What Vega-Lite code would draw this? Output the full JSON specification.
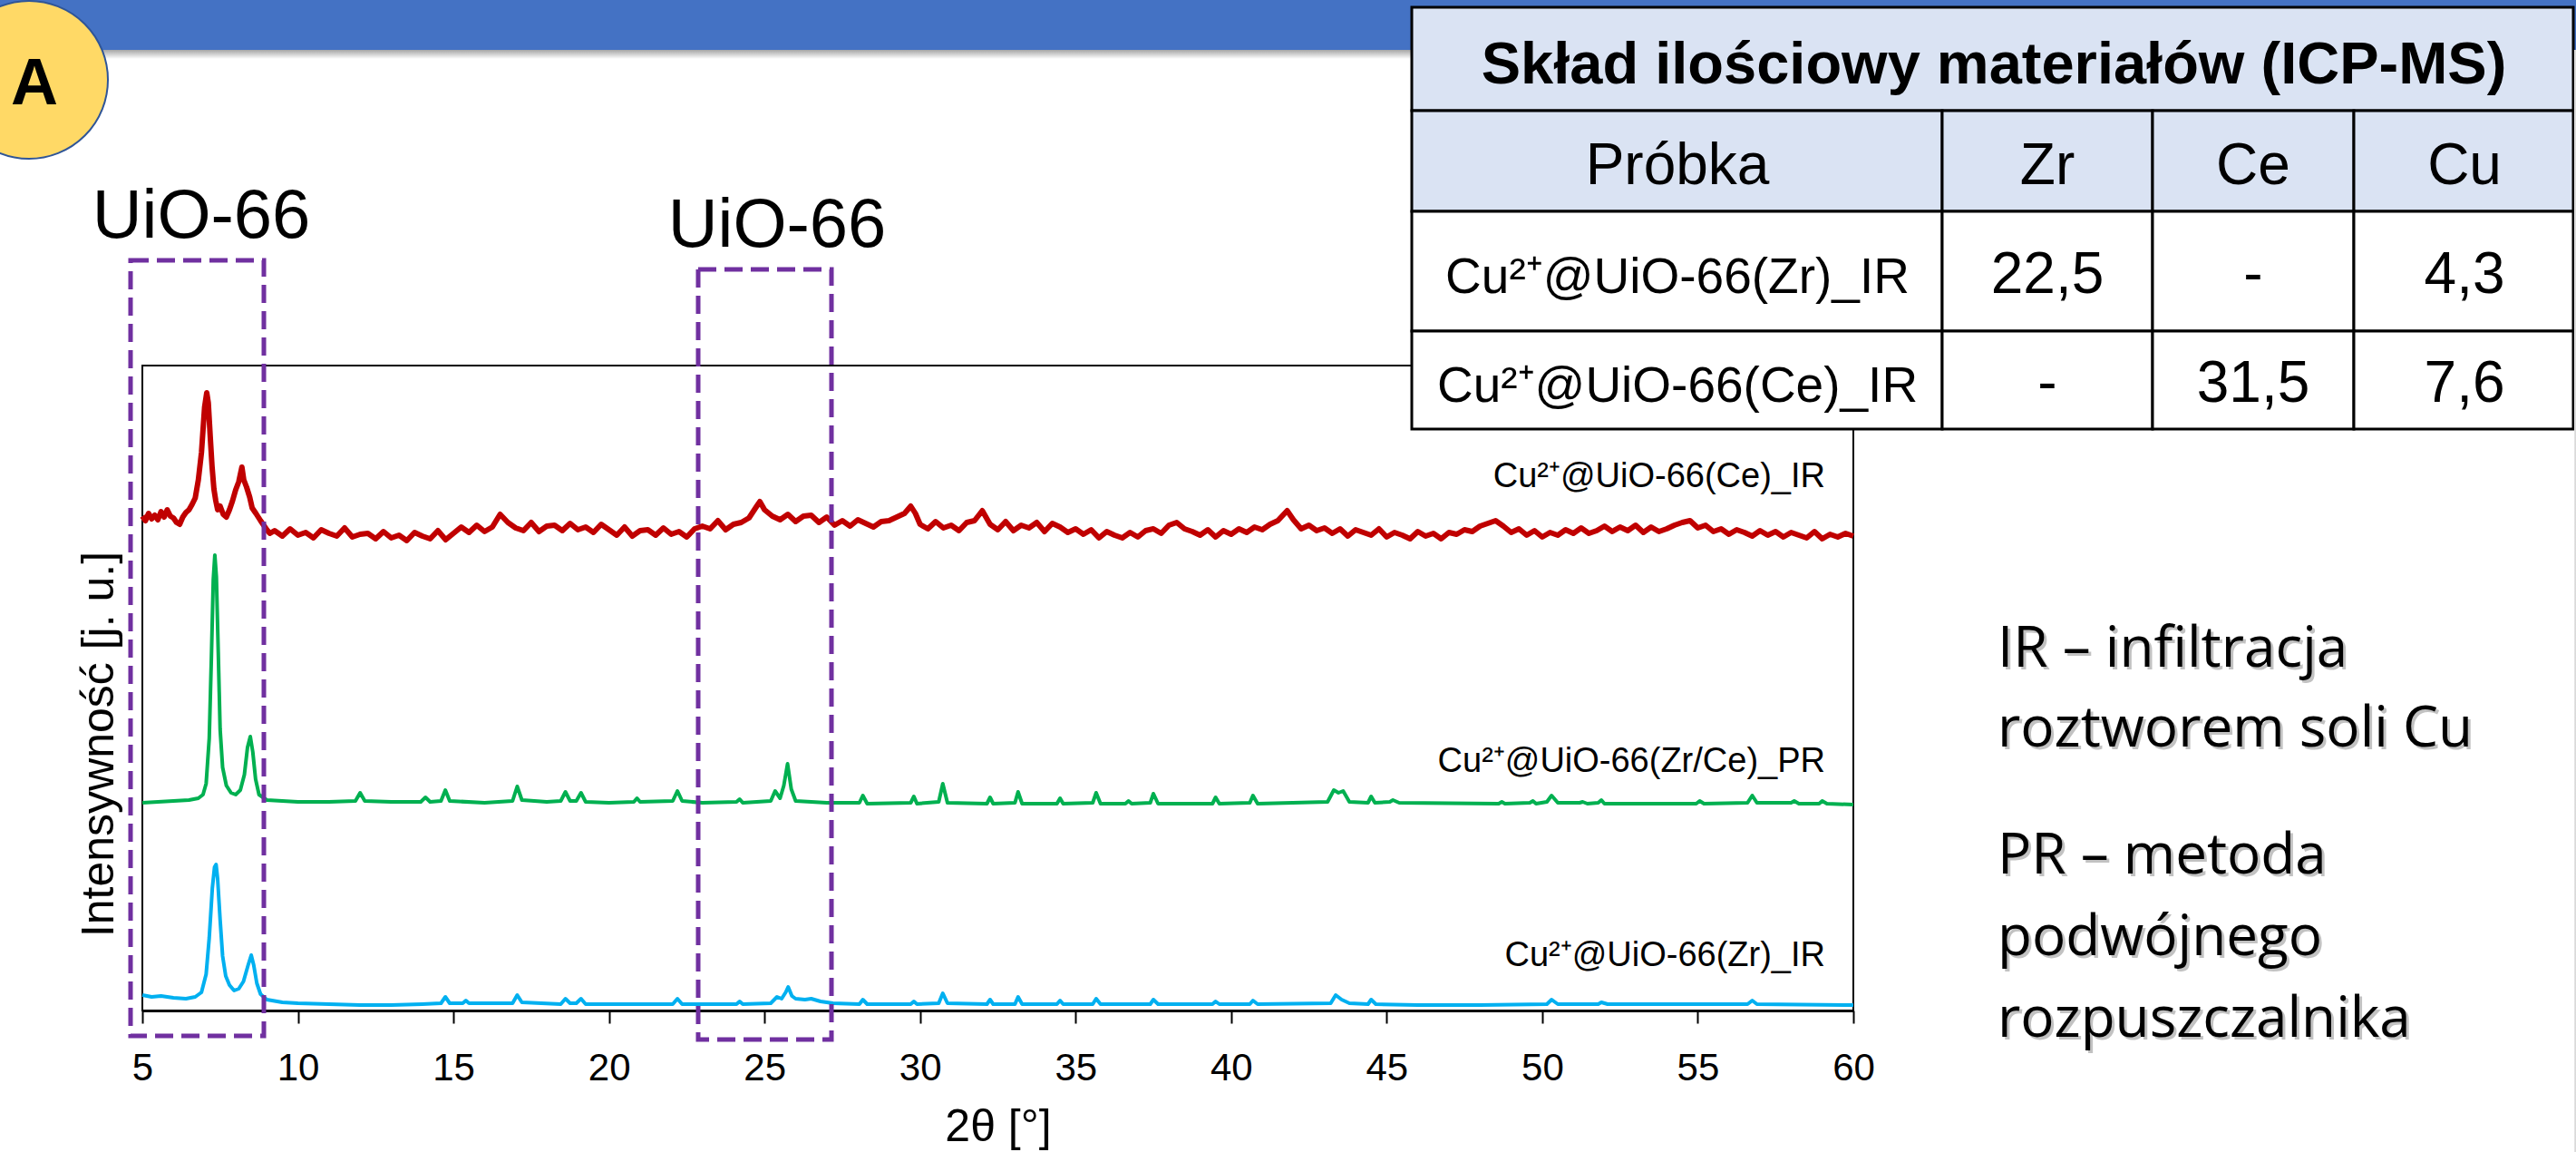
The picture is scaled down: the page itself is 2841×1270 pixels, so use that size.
{
  "$schema": "https://vega.github.io/schema/vega-lite/v6.json",
  "width": 1887,
  "height": 711,
  "autosize": {"type": "none"},
  "padding": {"left": 157, "top": 403, "right": 797, "bottom": 156},
  "background": "white",
  "config": {"view": {"stroke": "#000", "strokeWidth": 2}, "font": "Liberation Sans"},
  "datasets": {
    "red": [
      {"x":5,"v":545},{"x":5.1,"v":540},{"x":5.2,"v":548},{"x":5.3,"v":542},{"x":5.4,"v":546},{"x":5.5,"v":541},{"x":5.6,"v":550},{"x":5.7,"v":544},{"x":5.8,"v":552},{"x":5.9,"v":545},
      {"x":6,"v":543},{"x":6.1,"v":538},{"x":6.2,"v":536},{"x":6.3,"v":544},{"x":6.4,"v":549},{"x":6.5,"v":552},{"x":6.6,"v":558},{"x":6.7,"v":565},{"x":6.8,"v":585},{"x":6.9,"v":615},
      {"x":6.95,"v":640},{"x":7,"v":665},{"x":7.07,"v":681},{"x":7.12,"v":670},{"x":7.18,"v":634},{"x":7.24,"v":600},{"x":7.3,"v":575},{"x":7.36,"v":562},{"x":7.42,"v":552},{"x":7.5,"v":556},
      {"x":7.6,"v":547},{"x":7.7,"v":544},{"x":7.8,"v":552},{"x":7.9,"v":562},{"x":8,"v":574},{"x":8.1,"v":583},{"x":8.2,"v":599},{"x":8.26,"v":585},{"x":8.35,"v":577},{"x":8.45,"v":566},
      {"x":8.53,"v":554},{"x":8.65,"v":548},{"x":8.8,"v":540},{"x":8.9,"v":535},{"x":9,"v":530},{"x":9.1,"v":526},
      {"x":9.25,"v":529},{"x":9.5,"v":523},{"x":9.75,"v":531},{"x":10,"v":524},{"x":10.25,"v":527},{"x":10.5,"v":521},{"x":10.75,"v":530},{"x":11,"v":526},{"x":11.25,"v":523},{"x":11.5,"v":532},
      {"x":11.75,"v":522},{"x":12,"v":525},{"x":12.25,"v":526},{"x":12.5,"v":520},{"x":12.75,"v":528},{"x":13,"v":521},{"x":13.25,"v":524},{"x":13.5,"v":518},{"x":13.75,"v":527},{"x":14,"v":523},
      {"x":14.25,"v":520},{"x":14.5,"v":529},{"x":14.75,"v":519},{"x":15,"v":526},{"x":15.25,"v":533},{"x":15.5,"v":527},{"x":15.75,"v":535},{"x":16,"v":528},{"x":16.25,"v":533},{"x":16.5,"v":547},
      {"x":16.75,"v":538},{"x":17,"v":532},{"x":17.25,"v":529},{"x":17.5,"v":538},{"x":17.75,"v":528},{"x":18,"v":534},{"x":18.25,"v":535},{"x":18.5,"v":529},{"x":18.75,"v":537},{"x":19,"v":530},
      {"x":19.25,"v":533},{"x":19.5,"v":527},{"x":19.75,"v":536},{"x":20,"v":530},{"x":20.25,"v":524},{"x":20.5,"v":533},{"x":20.75,"v":523},{"x":21,"v":529},{"x":21.25,"v":530},{"x":21.5,"v":524},
      {"x":21.75,"v":532},{"x":22,"v":525},{"x":22.25,"v":528},{"x":22.5,"v":522},{"x":22.75,"v":531},{"x":23,"v":534},{"x":23.25,"v":531},{"x":23.5,"v":540},{"x":23.75,"v":530},{"x":24,"v":536},
      {"x":24.25,"v":538},{"x":24.5,"v":543},{"x":24.75,"v":556},{"x":24.85,"v":561},{"x":25,"v":552},{"x":25.25,"v":545},{"x":25.5,"v":541},{"x":25.75,"v":547},{"x":26,"v":539},{"x":26.25,"v":545},
      {"x":26.5,"v":546},{"x":26.75,"v":538},{"x":27,"v":544},{"x":27.25,"v":535},{"x":27.5,"v":540},{"x":27.75,"v":534},{"x":28,"v":541},{"x":28.25,"v":537},{"x":28.5,"v":533},{"x":28.75,"v":539},
      {"x":29,"v":540},{"x":29.25,"v":544},{"x":29.5,"v":548},{"x":29.7,"v":556},{"x":29.85,"v":548},{"x":30,"v":536},{"x":30.25,"v":531},{"x":30.5,"v":539},{"x":30.75,"v":532},{"x":31,"v":535},
      {"x":31.25,"v":529},{"x":31.5,"v":538},{"x":31.75,"v":540},{"x":32,"v":551},{"x":32.25,"v":536},{"x":32.5,"v":530},{"x":32.75,"v":539},{"x":33,"v":529},{"x":33.25,"v":535},{"x":33.5,"v":532},
      {"x":33.75,"v":538},{"x":34,"v":528},{"x":34.25,"v":537},{"x":34.5,"v":533},{"x":34.75,"v":527},{"x":35,"v":531},{"x":35.25,"v":525},{"x":35.5,"v":530},{"x":35.75,"v":521},{"x":36,"v":528},
      {"x":36.25,"v":524},{"x":36.5,"v":521},{"x":36.75,"v":527},{"x":37,"v":522},{"x":37.25,"v":529},{"x":37.5,"v":531},{"x":37.75,"v":526},{"x":38,"v":535},{"x":38.25,"v":538},{"x":38.5,"v":531},
      {"x":38.75,"v":528},{"x":39,"v":524},{"x":39.25,"v":530},{"x":39.5,"v":522},{"x":39.75,"v":529},{"x":40,"v":525},{"x":40.25,"v":531},{"x":40.5,"v":527},{"x":40.75,"v":533},{"x":41,"v":530},
      {"x":41.25,"v":536},{"x":41.5,"v":540},{"x":41.8,"v":551},{"x":42,"v":541},{"x":42.25,"v":531},{"x":42.5,"v":535},{"x":42.75,"v":529},{"x":43,"v":532},{"x":43.25,"v":526},{"x":43.5,"v":531},
      {"x":43.75,"v":523},{"x":44,"v":530},{"x":44.25,"v":527},{"x":44.5,"v":524},{"x":44.75,"v":531},{"x":45,"v":522},{"x":45.25,"v":527},{"x":45.5,"v":524},{"x":45.75,"v":520},{"x":46,"v":528},
      {"x":46.25,"v":523},{"x":46.5,"v":526},{"x":46.75,"v":520},{"x":47,"v":527},{"x":47.25,"v":525},{"x":47.5,"v":530},{"x":47.75,"v":528},{"x":48,"v":534},{"x":48.25,"v":537},{"x":48.5,"v":540},
      {"x":48.75,"v":534},{"x":49,"v":527},{"x":49.25,"v":531},{"x":49.5,"v":524},{"x":49.75,"v":529},{"x":50,"v":522},{"x":50.25,"v":527},{"x":50.5,"v":524},{"x":50.75,"v":530},{"x":51,"v":526},
      {"x":51.25,"v":532},{"x":51.5,"v":526},{"x":51.75,"v":529},{"x":52,"v":534},{"x":52.25,"v":528},{"x":52.5,"v":533},{"x":52.75,"v":529},{"x":53,"v":535},{"x":53.25,"v":527},{"x":53.5,"v":533},
      {"x":53.75,"v":528},{"x":54,"v":531},{"x":54.25,"v":535},{"x":54.5,"v":538},{"x":54.75,"v":540},{"x":55,"v":532},{"x":55.25,"v":535},{"x":55.5,"v":528},{"x":55.75,"v":531},{"x":56,"v":525},
      {"x":56.25,"v":530},{"x":56.5,"v":527},{"x":56.75,"v":523},{"x":57,"v":529},{"x":57.25,"v":524},{"x":57.5,"v":528},{"x":57.75,"v":522},{"x":58,"v":527},{"x":58.25,"v":524},{"x":58.5,"v":521},
      {"x":58.75,"v":528},{"x":59,"v":520},{"x":59.25,"v":525},{"x":59.5,"v":522},{"x":59.75,"v":526},{"x":60,"v":523}
    ],
    "green": [
      {"x":5,"v":229},{"x":5.5,"v":230},{"x":6,"v":231},{"x":6.5,"v":232},{"x":6.8,"v":234},{"x":6.95,"v":238},{"x":7.05,"v":250},{"x":7.15,"v":300},{"x":7.22,"v":390},{"x":7.28,"v":475},{"x":7.33,"v":502},
      {"x":7.38,"v":478},{"x":7.44,"v":395},{"x":7.5,"v":310},{"x":7.58,"v":268},{"x":7.7,"v":248},{"x":7.85,"v":240},{"x":8,"v":238},{"x":8.15,"v":243},{"x":8.28,"v":260},{"x":8.38,"v":290},
      {"x":8.47,"v":302},{"x":8.55,"v":285},{"x":8.64,"v":255},{"x":8.75,"v":238},{"x":9,"v":232},{"x":9.5,"v":231},{"x":10,"v":230},{"x":11,"v":230},{"x":11.85,"v":231},{"x":12,"v":240},
      {"x":12.15,"v":231},{"x":13,"v":230},{"x":13.95,"v":230},{"x":14.1,"v":235},{"x":14.25,"v":230},{"x":14.6,"v":231},{"x":14.74,"v":243},{"x":14.88,"v":231},{"x":16,"v":229},{"x":16.9,"v":231},
      {"x":17.05,"v":247},{"x":17.2,"v":232},{"x":18,"v":230},{"x":18.45,"v":231},{"x":18.6,"v":241},{"x":18.75,"v":231},{"x":18.95,"v":231},{"x":19.1,"v":240},{"x":19.25,"v":230},{"x":20,"v":229},
      {"x":20.8,"v":230},{"x":20.9,"v":234},{"x":21,"v":230},{"x":22.05,"v":231},{"x":22.2,"v":242},{"x":22.35,"v":231},{"x":23,"v":229},{"x":24.1,"v":230},{"x":24.2,"v":233},{"x":24.3,"v":229},
      {"x":25.2,"v":231},{"x":25.34,"v":242},{"x":25.5,"v":234},{"x":25.62,"v":248},{"x":25.74,"v":272},{"x":25.86,"v":244},{"x":26,"v":231},{"x":27,"v":229},{"x":28.05,"v":229},{"x":28.16,"v":237},
      {"x":28.3,"v":228},{"x":29.7,"v":229},{"x":29.8,"v":236},{"x":29.9,"v":228},{"x":30.6,"v":230},{"x":30.73,"v":250},{"x":30.88,"v":229},{"x":32.15,"v":228},{"x":32.25,"v":235},{"x":32.35,"v":228},
      {"x":33.05,"v":229},{"x":33.15,"v":241},{"x":33.28,"v":228},{"x":34.4,"v":228},{"x":34.5,"v":234},{"x":34.6,"v":228},{"x":35.55,"v":229},{"x":35.66,"v":240},{"x":35.8,"v":228},{"x":36.6,"v":228},
      {"x":36.7,"v":231},{"x":36.8,"v":228},{"x":37.4,"v":229},{"x":37.5,"v":239},{"x":37.65,"v":228},{"x":39.4,"v":228},{"x":39.5,"v":235},{"x":39.62,"v":228},{"x":40.6,"v":229},{"x":40.7,"v":237},
      {"x":40.85,"v":228},{"x":43.1,"v":230},{"x":43.3,"v":243},{"x":43.45,"v":240},{"x":43.6,"v":242},{"x":43.8,"v":230},{"x":44.4,"v":229},{"x":44.5,"v":236},{"x":44.62,"v":229},{"x":45.1,"v":230},
      {"x":45.2,"v":232},{"x":45.4,"v":229},{"x":48.6,"v":228},{"x":48.7,"v":230},{"x":48.8,"v":228},{"x":49.6,"v":229},{"x":49.7,"v":231},{"x":49.8,"v":228},{"x":50.15,"v":230},{"x":50.3,"v":237},
      {"x":50.5,"v":229},{"x":51.2,"v":229},{"x":51.3,"v":230},{"x":51.45,"v":228},{"x":51.8,"v":229},{"x":51.9,"v":232},{"x":52,"v":228},{"x":54.95,"v":228},{"x":55.06,"v":231},{"x":55.2,"v":228},
      {"x":56.6,"v":229},{"x":56.75,"v":237},{"x":56.9,"v":229},{"x":58,"v":229},{"x":58.1,"v":231},{"x":58.25,"v":228},{"x":58.9,"v":228},{"x":59,"v":231},{"x":59.15,"v":228},{"x":60,"v":227}
    ],
    "blue": [
      {"x":5,"v":17},{"x":5.3,"v":15},{"x":5.6,"v":16},{"x":6,"v":14},{"x":6.4,"v":13},{"x":6.7,"v":15},{"x":6.9,"v":20},{"x":7.05,"v":40},{"x":7.15,"v":80},{"x":7.25,"v":135},
      {"x":7.32,"v":158},{"x":7.37,"v":161},{"x":7.42,"v":145},{"x":7.5,"v":100},{"x":7.58,"v":60},{"x":7.68,"v":38},{"x":7.8,"v":28},{"x":7.95,"v":22},{"x":8.1,"v":24},{"x":8.25,"v":32},
      {"x":8.4,"v":50},{"x":8.5,"v":61},{"x":8.58,"v":50},{"x":8.68,"v":30},{"x":8.8,"v":18},{"x":9,"v":12},{"x":9.5,"v":9},{"x":10,"v":8},{"x":11,"v":7},{"x":12,"v":6},
      {"x":13,"v":6},{"x":14,"v":7},{"x":14.6,"v":8},{"x":14.74,"v":15},{"x":14.88,"v":8},{"x":15.3,"v":8},{"x":15.4,"v":11},{"x":15.5,"v":8},{"x":16.9,"v":8},{"x":17.05,"v":17},
      {"x":17.2,"v":9},{"x":18.45,"v":7},{"x":18.6,"v":13},{"x":18.75,"v":8},{"x":18.95,"v":8},{"x":19.1,"v":13},{"x":19.25,"v":7},{"x":21,"v":7},{"x":22.05,"v":7},{"x":22.2,"v":13},
      {"x":22.35,"v":7},{"x":24.1,"v":7},{"x":24.2,"v":10},{"x":24.3,"v":7},{"x":25.2,"v":8},{"x":25.4,"v":15},{"x":25.55,"v":13},{"x":25.68,"v":20},{"x":25.76,"v":26},{"x":25.88,"v":16},
      {"x":26,"v":13},{"x":26.3,"v":12},{"x":26.5,"v":13},{"x":26.8,"v":10},{"x":27.2,"v":8},{"x":28.05,"v":7},{"x":28.16,"v":12},{"x":28.3,"v":7},{"x":29.7,"v":7},{"x":29.8,"v":10},
      {"x":29.9,"v":7},{"x":30.6,"v":8},{"x":30.73,"v":19},{"x":30.88,"v":8},{"x":32.15,"v":7},{"x":32.25,"v":12},{"x":32.35,"v":7},{"x":33.05,"v":7},{"x":33.15,"v":15},{"x":33.28,"v":7},
      {"x":34.4,"v":7},{"x":34.5,"v":11},{"x":34.6,"v":7},{"x":35.55,"v":7},{"x":35.66,"v":13},{"x":35.8,"v":7},{"x":37.4,"v":7},{"x":37.5,"v":12},{"x":37.65,"v":7},{"x":39.4,"v":7},
      {"x":39.5,"v":10},{"x":39.62,"v":7},{"x":40.6,"v":7},{"x":40.7,"v":11},{"x":40.85,"v":7},{"x":43.2,"v":8},{"x":43.36,"v":17},{"x":43.55,"v":12},{"x":43.8,"v":8},{"x":44.4,"v":7},
      {"x":44.5,"v":12},{"x":44.65,"v":7},{"x":46,"v":6},{"x":48,"v":6},{"x":50.15,"v":7},{"x":50.3,"v":12},{"x":50.5,"v":7},{"x":51.8,"v":7},{"x":51.9,"v":9},{"x":52.1,"v":7},
      {"x":56.6,"v":7},{"x":56.75,"v":11},{"x":56.9,"v":7},{"x":60,"v":6}
    ],
    "bar": [{"x":0.278,"x2":83.49,"v":1119,"v2":1059}],
    "barShadow": [{"x":0.278,"x2":83.49,"v":1059,"v2":1049}],
    "edge": [{"x":83.172,"x2":83.49,"v":1059,"v2":-170}],
    "circle": [{"x":1.357,"v":1026}],
    "letterA": [{"x":1.532,"v":999,"t":"A"}],
    "uio": [{"x":6.895,"v":852,"t":"UiO-66"},{"x":25.403,"v":842,"t":"UiO-66"}],
    "boxes": [{"x":4.621,"x2":8.906,"v":827,"v2":-28},{"x":22.867,"x2":27.152,"v":817,"v2":-32}],
    "labels": [
      {"x":59.096,"v":577,"t":"Cu²⁺@UiO-66(Ce)_IR"},
      {"x":59.096,"v":263,"t":"Cu²⁺@UiO-66(Zr/Ce)_PR"},
      {"x":59.096,"v":49,"t":"Cu²⁺@UiO-66(Zr)_IR"}
    ],
    "tblHead": [
      {"x":45.806,"x2":83.143,"v":1106,"v2":992},
      {"x":45.806,"x2":62.856,"v":992,"v2":881},
      {"x":62.856,"x2":69.618,"v":992,"v2":881},
      {"x":69.618,"x2":76.089,"v":992,"v2":881},
      {"x":76.089,"x2":83.143,"v":992,"v2":881}
    ],
    "tblBody": [
      {"x":45.806,"x2":62.856,"v":881,"v2":749},
      {"x":62.856,"x2":69.618,"v":881,"v2":749},
      {"x":69.618,"x2":76.089,"v":881,"v2":749},
      {"x":76.089,"x2":83.143,"v":881,"v2":749},
      {"x":45.806,"x2":62.856,"v":749,"v2":641},
      {"x":62.856,"x2":69.618,"v":749,"v2":641},
      {"x":69.618,"x2":76.089,"v":749,"v2":641},
      {"x":76.089,"x2":83.143,"v":749,"v2":641}
    ],
    "tblTitle": [{"x":64.518,"v":1022,"t":"Skład ilościowy materiałów (ICP-MS)"}],
    "tblText": [
      {"x":54.346,"v":911,"t":"Próbka"},{"x":66.237,"v":911,"t":"Zr"},{"x":72.853,"v":911,"t":"Ce"},{"x":79.646,"v":911,"t":"Cu"},
      {"x":66.237,"v":791,"t":"22,5"},{"x":72.853,"v":791,"t":"-"},{"x":79.646,"v":791,"t":"4,3"},
      {"x":66.237,"v":671,"t":"-"},{"x":72.853,"v":671,"t":"31,5"},{"x":79.646,"v":671,"t":"7,6"}
    ],
    "tblRows": [
      {"x":54.346,"v":791,"t":"Cu²⁺@UiO-66(Zr)_IR"},
      {"x":54.346,"v":671,"t":"Cu²⁺@UiO-66(Ce)_IR"}
    ],
    "notes": [
      {"x":64.634,"v":379,"t":"IR – infiltracja"},
      {"x":64.634,"v":291,"t":"roztworem soli Cu"},
      {"x":64.634,"v":151,"t":"PR – metoda"},
      {"x":64.634,"v":61,"t":"podwójnego"},
      {"x":64.634,"v":-29,"t":"rozpuszczalnika"}
    ]
  },
  "encoding": {
    "x": {"field": "x", "type": "quantitative",
      "scale": {"domain": [5, 60], "nice": false, "zero": false},
      "axis": {"title": "2θ [°]", "values": [5,10,15,20,25,30,35,40,45,50,55,60], "grid": false,
        "domainColor": "#000", "domainWidth": 3, "tickColor": "#000", "tickWidth": 2, "tickSize": 14,
        "labelFont": "Liberation Sans", "labelFontSize": 42, "labelColor": "#000", "labelBaseline": "alphabetic",
        "labelPadding": 62, "labelFlush": false, "labelOverlap": false,
        "titleFont": "Liberation Sans", "titleFontSize": 50, "titleFontWeight": "normal", "titleColor": "#000",
        "titleBaseline": "alphabetic", "titleY": 143}},
    "y": {"field": "v", "type": "quantitative",
      "scale": {"domain": [0, 711], "nice": false, "zero": false},
      "axis": {"title": "Intensywność [j. u.]", "labels": false, "ticks": false, "domain": false, "grid": false,
        "titleFont": "Liberation Sans", "titleFontSize": 50, "titleFontWeight": "normal", "titleColor": "#000",
        "titlePadding": 23, "titleY": 417}}
  },
  "layer": [
    {"data": {"name": "bar"}, "mark": {"type": "rect", "color": "#4472C4"},
      "encoding": {"x2": {"field": "x2"}, "y2": {"field": "v2"}}},
    {"data": {"name": "barShadow"},
      "mark": {"type": "rect", "color": {"gradient": "linear", "x1": 0, "y1": 0, "x2": 0, "y2": 1,
        "stops": [{"offset": 0, "color": "rgba(0,0,0,0.35)"}, {"offset": 1, "color": "rgba(0,0,0,0)"}]}},
      "encoding": {"x2": {"field": "x2"}, "y2": {"field": "v2"}}},
    {"data": {"name": "red"}, "mark": {"type": "line", "color": "#C00000", "strokeWidth": 6, "strokeJoin": "round"}, "encoding": {}},
    {"data": {"name": "green"}, "mark": {"type": "line", "color": "#00B050", "strokeWidth": 4, "strokeJoin": "round"}, "encoding": {}},
    {"data": {"name": "blue"}, "mark": {"type": "line", "color": "#00B0F0", "strokeWidth": 4, "strokeJoin": "round"}, "encoding": {}},
    {"data": {"name": "circle"},
      "mark": {"type": "point", "shape": "circle", "filled": true, "color": "#FFD966", "opacity": 1, "size": 30276, "stroke": "#2F5597", "strokeWidth": 2},
      "encoding": {}},
    {"data": {"name": "letterA"},
      "mark": {"type": "text", "font": "Liberation Sans", "fontSize": 72, "fontWeight": "bold", "color": "#000", "align": "center", "baseline": "alphabetic"},
      "encoding": {"text": {"field": "t"}}},
    {"data": {"name": "uio"},
      "mark": {"type": "text", "font": "Liberation Sans", "fontSize": 76, "color": "#000", "align": "center", "baseline": "alphabetic"},
      "encoding": {"text": {"field": "t"}}},
    {"data": {"name": "boxes"},
      "mark": {"type": "rect", "filled": false, "stroke": "#7030A0", "strokeWidth": 5, "strokeDash": [20, 9]},
      "encoding": {"x2": {"field": "x2"}, "y2": {"field": "v2"}}},
    {"data": {"name": "labels"},
      "mark": {"type": "text", "font": "Liberation Sans", "fontSize": 38, "color": "#000", "align": "right", "baseline": "alphabetic"},
      "encoding": {"text": {"field": "t"}}},
    {"data": {"name": "tblHead"},
      "mark": {"type": "rect", "color": "#DAE3F3", "stroke": "#000", "strokeWidth": 3},
      "encoding": {"x2": {"field": "x2"}, "y2": {"field": "v2"}}},
    {"data": {"name": "tblBody"},
      "mark": {"type": "rect", "color": "#FFFFFF", "stroke": "#000", "strokeWidth": 3},
      "encoding": {"x2": {"field": "x2"}, "y2": {"field": "v2"}}},
    {"data": {"name": "tblTitle"},
      "mark": {"type": "text", "font": "Liberation Sans", "fontSize": 65, "fontWeight": "bold", "color": "#000", "align": "center", "baseline": "alphabetic"},
      "encoding": {"text": {"field": "t"}}},
    {"data": {"name": "tblText"},
      "mark": {"type": "text", "font": "Liberation Sans", "fontSize": 64, "color": "#000", "align": "center", "baseline": "alphabetic"},
      "encoding": {"text": {"field": "t"}}},
    {"data": {"name": "tblRows"},
      "mark": {"type": "text", "font": "Liberation Sans", "fontSize": 55, "color": "#000", "align": "center", "baseline": "alphabetic"},
      "encoding": {"text": {"field": "t"}}},
    {"data": {"name": "notes"},
      "mark": {"type": "text", "font": "Open Sans", "fontSize": 62, "color": "#9a9a9a", "opacity": 0.6, "align": "left", "baseline": "alphabetic", "dx": 3, "dy": 3},
      "encoding": {"text": {"field": "t"}}},
    {"data": {"name": "notes"},
      "mark": {"type": "text", "font": "Open Sans", "fontSize": 62, "color": "#000", "align": "left", "baseline": "alphabetic"},
      "encoding": {"text": {"field": "t"}}},
    {"data": {"name": "edge"},
      "mark": {"type": "rect", "color": {"gradient": "linear", "x1": 0, "y1": 0, "x2": 1, "y2": 0,
        "stops": [{"offset": 0, "color": "#e6e6e6"}, {"offset": 1, "color": "#8c8c8c"}]}},
      "encoding": {"x2": {"field": "x2"}, "y2": {"field": "v2"}}}
  ]
}
